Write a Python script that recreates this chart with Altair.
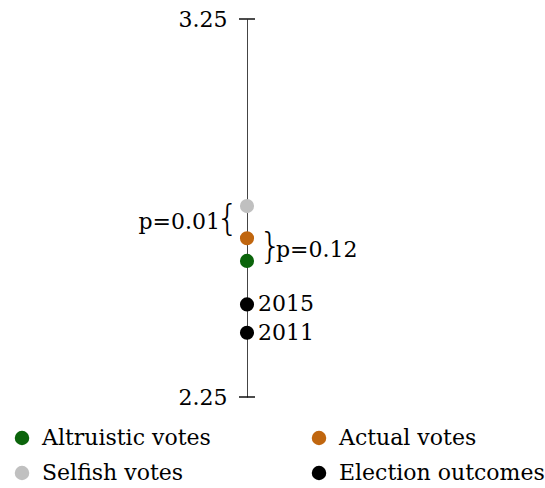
import altair as alt
import pandas as pd

categories = ["Altruistic votes", "Actual votes", "Selfish votes", "Election outcomes"]
colors = ["#0b640b", "#c0660f", "#c0c0c0", "#000000"]

point_groups = ["Altruistic votes", "Actual votes", "Selfish votes", "Election outcomes", "Election outcomes"]
point_values = [2.61, 2.67, 2.755, 2.495, 2.42]
point_labels = ["", "", "", "2015", "2011"]

tick_values = [2.25, 3.25]
tick_labels = ["2.25", "3.25"]

p_labels = ["p=0.01", "p=0.12"]
p_pairs = [("Selfish votes", "Actual votes"), ("Actual votes", "Altruistic votes")]

FONT = "DejaVu Serif"

pts = pd.DataFrame({"group": point_groups, "value": point_values, "label": point_labels})
val = {g: v for g, v in zip(point_groups[:3], point_values[:3])}
ann = pd.DataFrame({
    "label": p_labels,
    "value": [(val[a] + val[b]) / 2 for a, b in p_pairs],
})
ticks = pd.DataFrame({"value": tick_values, "label": tick_labels})

yscale = alt.Scale(domain=[2.25, 3.25])

axis_layer = alt.Chart(ticks).mark_tick(
    orient="horizontal", size=16, thickness=2, color="black"
).encode(
    x=alt.value(0),
    y=alt.Y("value:Q", scale=yscale, axis=alt.Axis(
        values=tick_values, ticks=False, labelPadding=20, labelFontSize=22,
        labelFont=FONT, labelColor="black", domainColor="#444", domainWidth=1,
        grid=False, title=None, labelExpr="datum.value == 2.25 ? '2.25' : '3.25'",
    )),
)

points = alt.Chart(pts).mark_circle(size=200, opacity=1).encode(
    x=alt.value(0),
    y=alt.Y("value:Q", scale=yscale),
    color=alt.Color("group:N", scale=alt.Scale(domain=categories, range=colors),
                    legend=alt.Legend(
                        title=None, orient="none", legendX=-236, legendY=408,
                        columns=2, direction="horizontal", columnPadding=97, rowPadding=13,
                        labelFont=FONT, labelFontSize=22, labelColor="black",
                        labelLimit=400,
                        symbolType="circle", symbolSize=210, symbolStrokeWidth=0,
                        labelOffset=9, symbolOpacity=1,
                    )),
)

years = alt.Chart(pts).transform_filter("datum.label != ''").mark_text(
    align="left", baseline="middle", dx=11, font=FONT, fontSize=22, color="black"
).encode(x=alt.value(0), y=alt.Y("value:Q", scale=yscale), text="label:N")

p1 = alt.Chart(ann.iloc[[0]]).mark_text(
    align="right", baseline="middle", dx=-27, font=FONT, fontSize=22, color="black"
).encode(x=alt.value(0), y=alt.Y("value:Q", scale=yscale), text="label:N")
b1 = alt.Chart(ann.iloc[[0]]).mark_text(
    align="right", baseline="middle", dx=-8, dy=-3, font="DejaVu Sans", fontWeight=200,
    fontSize=36, color="black", text="{"
).encode(x=alt.value(0), y=alt.Y("value:Q", scale=yscale))

p2 = alt.Chart(ann.iloc[[1]]).mark_text(
    align="left", baseline="middle", dx=29, font=FONT, fontSize=22, color="black"
).encode(x=alt.value(0), y=alt.Y("value:Q", scale=yscale), text="label:N")
b2 = alt.Chart(ann.iloc[[1]]).mark_text(
    align="left", baseline="middle", dx=12, dy=-3, font="DejaVu Sans", fontWeight=200,
    fontSize=36, color="black", text="}"
).encode(x=alt.value(0), y=alt.Y("value:Q", scale=yscale))

chart = alt.layer(axis_layer, points, years, p1, b1, p2, b2).properties(
    width=298, height=378,
    autosize=alt.AutoSizeParams(type="none"),
    padding={"left": 247, "top": 19, "right": 0, "bottom": 91},
).configure_view(stroke=None)

chart.save("out.html", embed_options={"renderer": "svg", "actions": False})
